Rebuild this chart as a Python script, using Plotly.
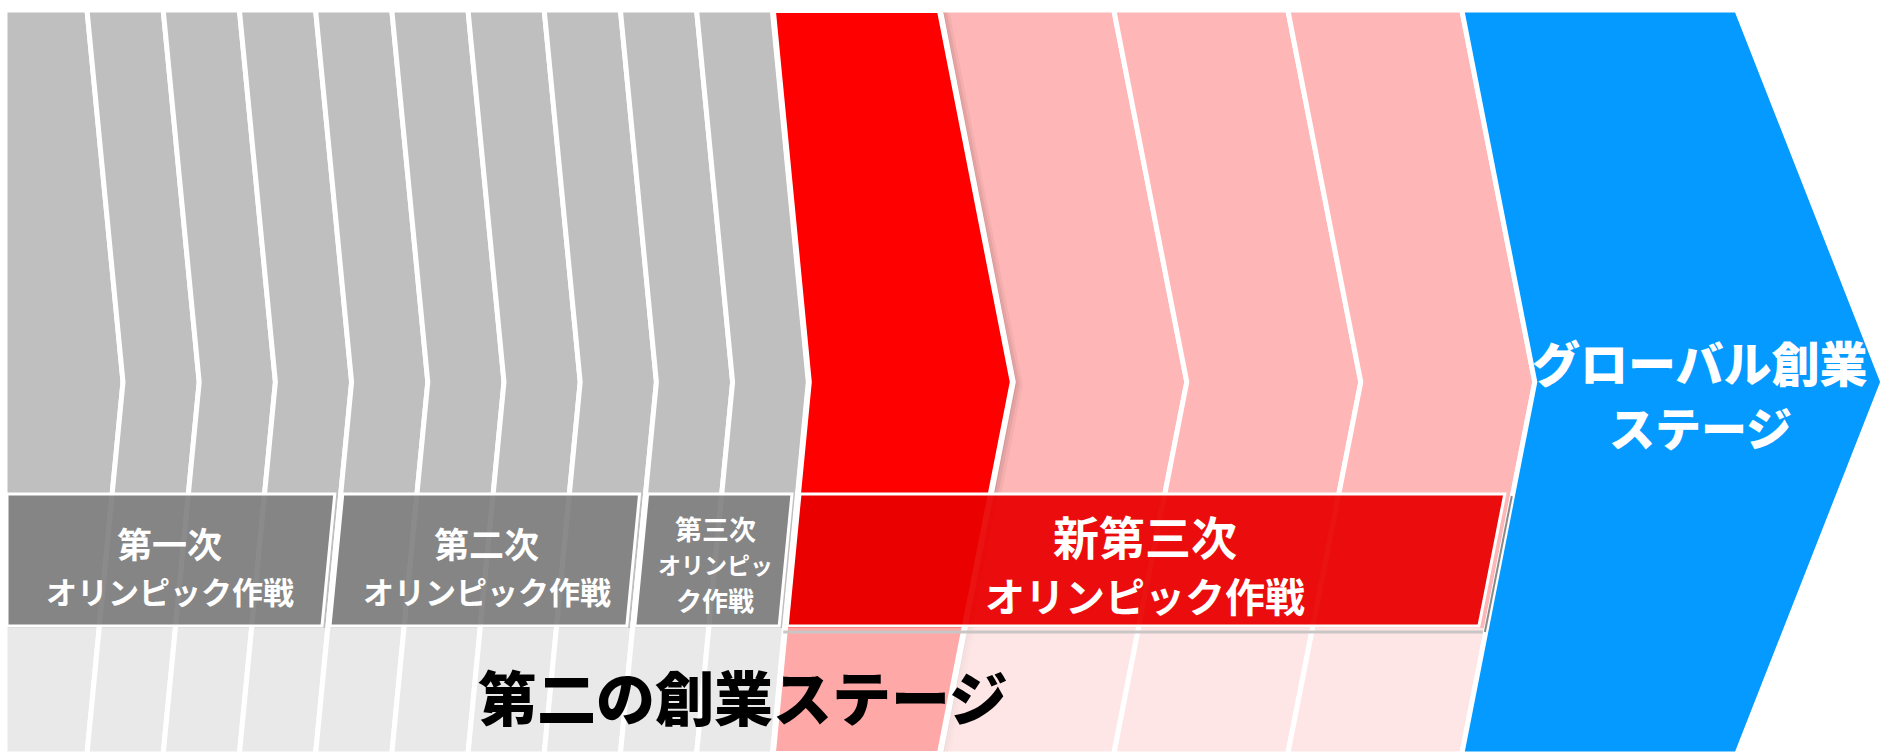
import plotly.graph_objects as go

# ---------------- content ----------------
campaign_lines = [
    ["第一次", "オリンピック作戦"],
    ["第二次", "オリンピック作戦"],
    ["第三次", "オリンピッ", "ク作戦"],
    ["新第三次", "オリンピック作戦"],
]
campaign_steps = [4, 4, 2, 4]          # chevrons covered by each campaign band
second_stage = "第二の創業ステージ"
global_stage = ["グローバル創業", "ステージ"]

# ---------------- layout ----------------
W, H = 1883, 752
TOP, MID, BOT = 10, 382, 754
BAND_TOP, BAND_BOT = 494, 626
FADE_TOP = 628

GRAY_X0, GRAY_FIRST, GRAY_STEP, GRAY_TIP = 5, 82, 76.2, 36
RED_W, PINK_STEP, PINK_TIP = 167, 174, 73
BLUE_W, BLUE_TIP = 275, 146

GRAY = "#BFBFBF"
RED = "#FF0000"
PINK = "#FFB6B6"
BLUE = "#049AFF"
BOX_GRAY = "rgba(128,128,128,0.91)"
BOX_RED = "rgba(233,0,0,0.93)"
FONT = "Noto Sans CJK JP"

n_gray = sum(campaign_steps[:3])
n_pink = campaign_steps[3] - 1

# boundaries: (x at top edge, horizontal offset of the point at mid height)
bounds = [(GRAY_X0, 0)]
bounds += [(GRAY_X0 + GRAY_FIRST + GRAY_STEP * k, GRAY_TIP) for k in range(n_gray)]
red_left = bounds[-1][0]
bounds.append((red_left + RED_W, PINK_TIP))
for k in range(n_pink):
    bounds.append((bounds[-1][0] + PINK_STEP, PINK_TIP))
bounds.append((bounds[-1][0] + BLUE_W, BLUE_TIP))

colors = [GRAY] * n_gray + [RED] + [PINK] * n_pink + [BLUE]


def bx(b, y):
    """x position of boundary b at height y."""
    return b[0] + b[1] * (1 - abs(y - MID) / (MID - TOP))


def chevron_path(bl, br, dx=0.0, dy=0.0):
    pts = [
        (bl[0], TOP), (br[0], TOP), (br[0] + br[1], MID),
        (br[0], BOT), (bl[0], BOT), (bl[0] + bl[1], MID),
    ]
    return "M " + " L ".join(f"{x + dx:.1f},{y + dy:.1f}" for x, y in pts) + " Z"


def poly_path(pts):
    return "M " + " L ".join(f"{x:.1f},{y:.1f}" for x, y in pts) + " Z"


shapes = []
red_idx = n_gray
blue_idx = len(colors) - 1

# gray and pink chevrons
for i, c in enumerate(colors):
    if i in (red_idx, blue_idx):
        continue
    shapes.append(dict(type="path", path=chevron_path(bounds[i], bounds[i + 1]),
                       fillcolor=c, line=dict(color="white", width=5), layer="above"))

# soft shadow of the highlighted red chevron
for k, a in [(10, 0.04), (7, 0.06), (4, 0.08)]:
    shapes.append(dict(type="path", path=chevron_path(bounds[red_idx], bounds[red_idx + 1], dx=k, dy=k * 0.3),
                       fillcolor=f"rgba(0,0,0,{a})", line=dict(width=0), layer="above"))
shapes.append(dict(type="path", path=chevron_path(bounds[red_idx], bounds[red_idx + 1]),
                   fillcolor=RED, line=dict(color="white", width=6), layer="above"))

# faded lower band
shapes.append(dict(type="rect", x0=0, x1=W, y0=FADE_TOP, y1=H + 5,
                   fillcolor="rgba(255,255,255,0.66)", line=dict(width=0), layer="above"))

# blue global stage chevron
shapes.append(dict(type="path", path=chevron_path(bounds[blue_idx], bounds[blue_idx + 1]),
                   fillcolor=BLUE, line=dict(color="white", width=5), layer="above"))

# campaign bands
edges = [0]
for s in campaign_steps:
    edges.append(edges[-1] + s)
box_centers = []
for j, s in enumerate(campaign_steps):
    b_left = bounds[edges[j]]
    b_right = bounds[edges[j + 1]] if j < 3 else bounds[blue_idx]
    inset_r = 8 if j == 3 else 6

    def lx(y):
        return (b_left[0] + 2) if j == 0 else bx(b_left, y) + 2

    def rx(y):
        return bx(b_right, y) - inset_r

    pts = [(lx(BAND_TOP), BAND_TOP), (rx(BAND_TOP), BAND_TOP),
           (rx(BAND_BOT), BAND_BOT), (lx(BAND_BOT), BAND_BOT)]
    if j == 3:
        # drop shadow below and to the right of the red band
        shapes.append(dict(type="path",
                           path=f"M {lx(BAND_BOT) - 4:.1f},{BAND_BOT + 6} L {rx(BAND_BOT) + 4:.1f},{BAND_BOT + 6}",
                           line=dict(color="#CBC6C6", width=3), layer="above"))
        shapes.append(dict(type="path",
                           path=f"M {rx(BAND_BOT) + 6:.1f},{BAND_BOT + 6} L {rx(BAND_TOP) + 7:.1f},{BAND_TOP + 2}",
                           line=dict(color="#8A8A8A", width=2), layer="above"))
    shapes.append(dict(type="path", path=poly_path(pts),
                       fillcolor=BOX_RED if j == 3 else BOX_GRAY,
                       line=dict(color="white", width=3), layer="above"))
    ym = (BAND_TOP + BAND_BOT) / 2
    box_centers.append((lx(ym) + rx(ym)) / 2 + 2)

annotations = []


def add_text(text, x, y, size, color="white", weight=700):
    annotations.append(dict(x=x, y=y, xref="x", yref="y", text=text, showarrow=False,
                            xanchor="center", yanchor="middle",
                            font=dict(family=FONT, size=size, color=color, weight=weight)))


line_y = {2: [542, 590], 3: [528, 564, 599]}
line_sizes = [[35, 31], [35, 31], [27, 23, 26], [46, 40]]
for j, lines in enumerate(campaign_lines):
    ys = [535, 595] if j == 3 else line_y[len(lines)]
    for t, y, s in zip(lines, ys, line_sizes[j]):
        add_text(t, box_centers[j], y, s)

add_text(global_stage[0], 1700, 361, 48, weight=900)
add_text(global_stage[1], 1700, 426, 46, weight=900)
add_text(second_stage, 743, 695, 59, color="black", weight=900)

fig = go.Figure()
fig.update_layout(
    width=W, height=H,
    margin=dict(l=0, r=0, t=0, b=0),
    paper_bgcolor="white", plot_bgcolor="white",
    xaxis=dict(range=[0, W], visible=False, fixedrange=True),
    yaxis=dict(range=[H, 0], visible=False, fixedrange=True),
    shapes=shapes, annotations=annotations, showlegend=False,
)
fig.write_html("out.html")
